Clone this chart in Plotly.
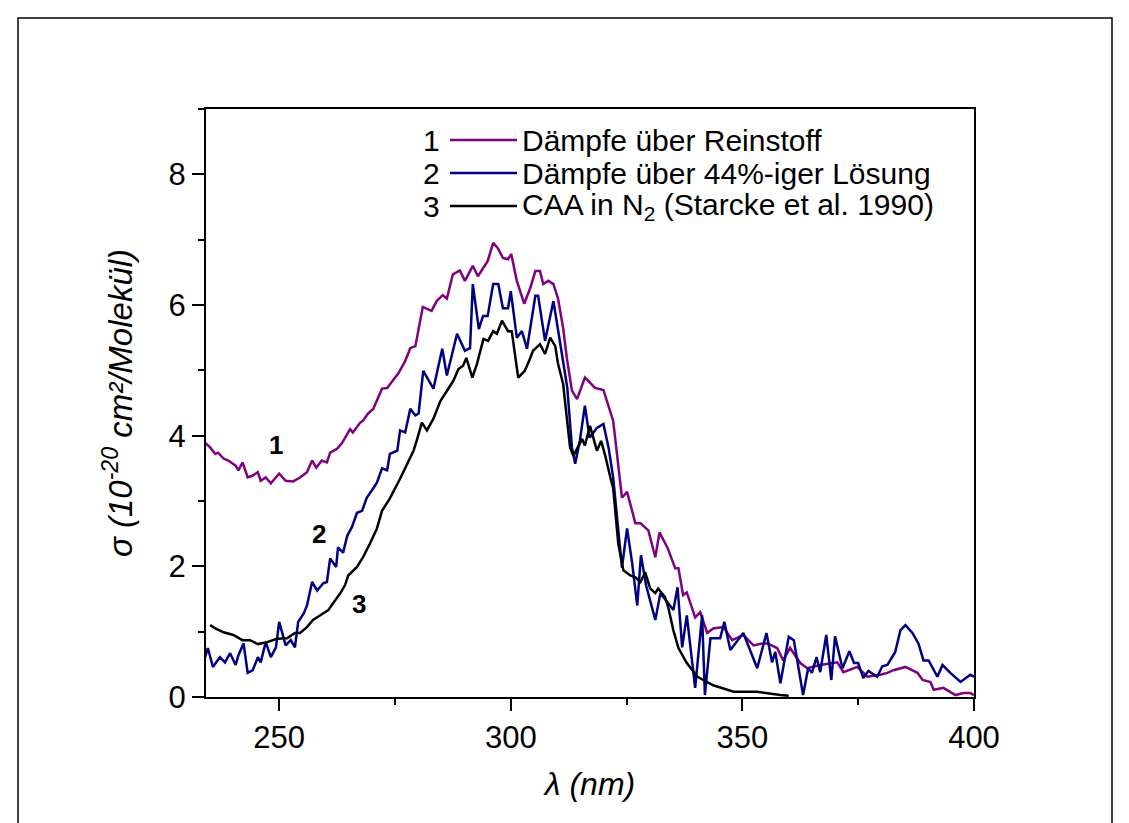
import plotly.graph_objects as go

# Absorption cross sections sigma (1e-20 cm^2/molecule) vs wavelength (nm)

# 1: vapour above the pure substance
wl_pure = [234.0, 235.1, 236.2, 236.8, 238.0, 239.0, 240.6, 241.2, 242.1, 243.2, 244.3, 245.4,
           246.0, 247.1, 248.2, 249.3, 250.0, 251.4, 253.0, 254.5, 256.0, 257.1, 258.0, 259.2,
           260.3, 261.0, 262.5, 263.6, 265.3, 265.9, 267.5, 268.1, 269.2, 270.3, 272.2, 273.3,
           275.7, 277.2, 278.3, 279.4, 281.0, 282.9, 284.0, 285.3, 286.2, 287.5, 289.0, 290.1,
           291.8, 292.9, 295.0, 296.2, 297.2, 298.3, 299.4, 300.1, 301.3, 302.9, 304.2, 305.3,
           306.3, 307.0, 308.1, 309.2, 310.2, 311.3, 312.1, 313.2, 314.3, 316.0, 318.2, 320.0,
           322.1, 324.0, 325.1, 326.9, 328.0, 329.7, 331.2, 332.1, 333.8, 335.5, 336.2, 337.2,
           338.0, 339.8, 340.9, 342.4, 343.7, 345.9, 347.8, 350.2, 352.4, 354.3, 355.4, 357.5,
           358.8, 360.3, 362.5, 364.0, 366.8, 370.5, 371.8, 374.8, 377.0, 379.8, 381.3, 382.6,
           385.2, 387.8, 388.9, 390.6, 391.3, 393.4, 396.0, 397.7, 399.2, 400.0]
sigma_pure = [3.89, 3.82, 3.72, 3.74, 3.65, 3.62, 3.54, 3.47, 3.59, 3.36, 3.39, 3.44,
              3.31, 3.36, 3.27, 3.36, 3.42, 3.31, 3.30, 3.36, 3.44, 3.62, 3.51, 3.62,
              3.59, 3.74, 3.80, 3.89, 4.10, 4.05, 4.20, 4.23, 4.34, 4.41, 4.72, 4.73,
              4.95, 5.14, 5.34, 5.37, 5.97, 5.91, 6.06, 6.15, 6.10, 6.47, 6.53, 6.37,
              6.60, 6.44, 6.67, 6.95, 6.87, 6.72, 6.70, 6.78, 6.37, 6.02, 6.26, 6.52,
              6.52, 6.32, 6.37, 6.32, 6.10, 5.65, 5.19, 4.69, 4.56, 4.89, 4.73, 4.70,
              4.23, 3.05, 3.14, 2.66, 2.66, 2.55, 2.14, 2.52, 2.29, 1.97, 1.97, 1.56,
              1.60, 1.22, 1.30, 0.98, 1.05, 1.07, 0.87, 0.95, 0.79, 0.82, 0.82, 0.75,
              0.56, 0.75, 0.52, 0.44, 0.49, 0.53, 0.38, 0.46, 0.31, 0.34, 0.37, 0.41,
              0.46, 0.37, 0.26, 0.23, 0.11, 0.14, 0.03, 0.06, 0.06, 0.03]

# 2: vapour above a 44 % solution
wl_sol = [234.0, 234.6, 235.7, 237.2, 238.3, 239.4, 240.6, 241.2, 242.3, 243.2, 244.3, 245.4,
          246.0, 247.1, 248.2, 249.3, 250.0, 251.4, 252.5, 253.4, 254.1, 255.3, 256.0, 257.1,
          258.2, 259.5, 260.3, 261.0, 262.3, 262.7, 263.8, 264.7, 265.7, 266.8, 267.9, 268.9,
          270.0, 271.1, 272.2, 273.3, 273.9, 275.5, 276.1, 277.2, 278.3, 279.4, 280.1, 281.1,
          283.3, 285.2, 286.2, 288.4, 290.1, 291.2, 291.8, 293.1, 294.0, 295.0, 296.2, 297.3,
          298.3, 299.4, 300.0, 301.3, 302.4, 303.5, 305.3, 305.9, 307.4, 309.2, 310.7, 312.2,
          313.2, 313.9, 314.9, 316.0, 317.0, 318.6, 320.0, 321.1, 322.1, 323.2, 324.0, 325.1,
          326.2, 327.3, 328.1, 329.2, 331.2, 332.3, 334.0, 335.1, 336.0, 337.0, 338.0, 339.8,
          341.3, 341.9, 343.1, 345.2, 346.1, 347.4, 350.2, 353.2, 355.2, 356.4, 357.1, 358.2,
          360.0, 361.1, 363.1, 364.2, 365.0, 366.0, 366.8, 368.1, 369.2, 370.0, 371.6, 373.1,
          374.1, 375.0, 376.1, 377.2, 379.1, 380.2, 381.3, 383.0, 384.1, 385.2, 386.7, 388.0,
          389.1, 390.2, 392.1, 393.2, 394.9, 397.1, 399.2, 400.0]
sigma_sol = [0.61, 0.75, 0.46, 0.61, 0.53, 0.67, 0.49, 0.64, 0.82, 0.37, 0.41, 0.61,
             0.53, 0.84, 0.61, 0.76, 1.15, 0.79, 0.87, 0.76, 1.15, 1.28, 1.40, 1.76,
             1.63, 1.74, 1.76, 2.12, 1.99, 2.29, 2.21, 2.47, 2.60, 2.82, 2.85, 3.05,
             3.16, 3.28, 3.50, 3.47, 3.72, 3.77, 4.08, 4.05, 4.41, 4.31, 4.34, 4.99,
             4.72, 5.33, 4.92, 5.56, 5.30, 5.34, 6.32, 5.63, 5.83, 5.83, 6.32, 6.32,
             5.95, 5.95, 6.21, 5.50, 5.60, 5.33, 6.14, 6.14, 5.45, 6.06, 5.40, 4.73,
             3.82, 3.57, 3.92, 4.46, 3.97, 4.12, 4.18, 3.82, 3.36, 2.55, 1.98, 2.58,
             2.05, 1.40, 2.17, 1.71, 1.18, 1.59, 1.44, 1.33, 1.68, 0.76, 1.25, 0.14,
             1.25, 0.03, 0.90, 0.90, 1.15, 0.72, 0.98, 0.44, 0.98, 0.53, 0.69, 0.21,
             0.92, 0.87, 0.03, 0.44, 0.37, 0.61, 0.38, 0.95, 0.26, 0.93, 0.44, 0.70,
             0.52, 0.52, 0.29, 0.40, 0.31, 0.47, 0.49, 0.69, 1.02, 1.10, 0.98, 0.82,
             0.56, 0.56, 0.31, 0.49, 0.37, 0.23, 0.34, 0.31]

# 3: CAA in N2 (Starcke et al. 1990)
wl_ref = [235.1, 236.2, 238.0, 240.1, 242.1, 243.7, 245.4, 247.4, 249.5, 251.7, 253.4, 254.5,
          256.0, 257.3, 259.3, 260.6, 261.6, 263.2, 264.2, 264.9, 266.8, 268.1, 269.6, 271.1,
          272.2, 273.3, 273.9, 276.1, 277.6, 279.0, 279.8, 280.8, 281.9, 283.3, 284.8, 286.2,
          287.6, 288.7, 289.7, 290.4, 291.7, 292.7, 294.1, 295.1, 296.2, 297.0, 298.1, 299.4,
          300.2, 301.6, 303.0, 304.2, 304.8, 306.3, 307.4, 308.5, 309.6, 310.2, 311.3, 312.1,
          312.8, 313.5, 315.4, 316.0, 317.1, 317.8, 318.6, 319.5, 320.4, 321.5, 322.1, 323.2,
          324.3, 325.8, 326.9, 328.0, 329.0, 330.1, 331.2, 331.8, 333.3, 334.0, 335.1, 336.2,
          338.0, 340.3, 343.7, 348.1, 353.2, 358.2, 360.0]
sigma_ref = [1.10, 1.05, 0.99, 0.95, 0.87, 0.87, 0.81, 0.84, 0.89, 0.90, 0.98, 0.98,
             1.07, 1.18, 1.27, 1.33, 1.43, 1.59, 1.71, 1.86, 1.99, 2.14, 2.35, 2.58,
             2.85, 2.98, 3.04, 3.34, 3.57, 3.77, 3.95, 4.20, 4.08, 4.26, 4.53, 4.69,
             4.84, 5.02, 5.07, 5.19, 4.89, 5.10, 5.48, 5.45, 5.60, 5.56, 5.76, 5.60,
             5.60, 4.89, 4.99, 5.19, 5.30, 5.40, 5.25, 5.50, 5.37, 5.10, 4.79, 4.27,
             3.82, 3.69, 3.95, 3.85, 4.15, 3.97, 3.77, 3.92, 3.69, 3.36, 3.20, 2.35,
             1.94, 1.86, 1.83, 1.76, 1.91, 1.66, 1.59, 1.66, 1.53, 1.37, 1.02, 0.75,
             0.52, 0.31, 0.18, 0.08, 0.08, 0.03, 0.02]

series_names = ["Dämpfe über Reinstoff",
                "Dämpfe über 44%-iger Lösung",
                "CAA in N<sub>2</sub> (Starcke et al. 1990)"]
series_colors = ["#800080", "#000080", "#000000"]
curve_labels = [("1", 249.3, 3.86), ("2", 258.7, 2.50), ("3", 267.2, 1.42)]

x_ticks = [250, 300, 350, 400]
y_ticks = [0, 2, 4, 6, 8]

FONT = "Arial, Liberation Sans, sans-serif"

fig = go.Figure()
for wl, sig, name, col in zip([wl_pure, wl_sol, wl_ref],
                              [sigma_pure, sigma_sol, sigma_ref],
                              series_names, series_colors):
    fig.add_trace(go.Scatter(x=wl, y=sig, mode="lines", name=name,
                             line=dict(color=col, width=2.5), showlegend=False))

# curve numbers beside the curves
for txt, lx, ly in curve_labels:
    fig.add_annotation(x=lx, y=ly, xref="x", yref="y", text=f"<b>{txt}</b>",
                       showarrow=False, font=dict(family=FONT, size=26, color="black"))

# key in the upper part of the frame: number, line sample, description
W, H = 1129, 823
L, R, T, B = 206, 155, 109, 126
pw, ph = W - L - R, H - T - B


def px(xp):
    return (xp - L) / pw


def py(yp):
    return (H - B - yp) / ph


rows_y = [140, 173, 206]
for i, (name, col) in enumerate(zip(series_names, series_colors)):
    yy = py(rows_y[i])
    fig.add_annotation(x=px(441), y=yy, xref="paper", yref="paper", text=str(i + 1),
                       xanchor="right", yanchor="middle", showarrow=False, borderpad=0,
                       font=dict(family=FONT, size=30, color="black"))
    fig.add_shape(type="line", xref="paper", yref="paper",
                  x0=px(450), x1=px(517), y0=yy, y1=yy,
                  line=dict(color=col, width=2.5))
    fig.add_annotation(x=px(521), y=yy, xref="paper", yref="paper", text=name,
                       xanchor="left", yanchor="middle", showarrow=False, borderpad=0,
                       font=dict(family=FONT, size=30, color="black"))

# outer frame around the whole graphic
fig.add_shape(type="rect", xref="paper", yref="paper",
              x0=px(18), x1=px(1112), y0=py(840), y1=py(18),
              line=dict(color="black", width=1.5), layer="below")

axis_common = dict(showline=True, linecolor="black", linewidth=2, mirror=True,
                   ticks="outside", tickwidth=2, tickcolor="black", ticklen=12,
                   showgrid=False, zeroline=False,
                   tickfont=dict(family=FONT, size=31, color="black"))

fig.update_xaxes(range=[234.2, 400], tickvals=x_ticks,
                 minor=dict(dtick=25, tick0=250, ticks="outside", ticklen=6,
                            tickwidth=2, tickcolor="black"),
                 title=dict(text="<i>λ (nm)</i>", standoff=18,
                            font=dict(family=FONT, size=32, color="black")),
                 **axis_common)
fig.update_yaxes(range=[0, 9], tickvals=y_ticks,
                 minor=dict(dtick=1, tick0=0, ticks="outside", ticklen=6,
                            tickwidth=2, tickcolor="black"),
                 title=dict(text="<i>σ (10<sup>-20</sup> cm²/Molekül)</i>", standoff=26,
                            font=dict(family=FONT, size=33, color="black")),
                 **axis_common)

fig.update_layout(width=W, height=H, margin=dict(l=L, r=R, t=T, b=B, autoexpand=False),
                  plot_bgcolor="white", paper_bgcolor="white",
                  font=dict(family=FONT, color="black"))

fig.write_html("out.html")
